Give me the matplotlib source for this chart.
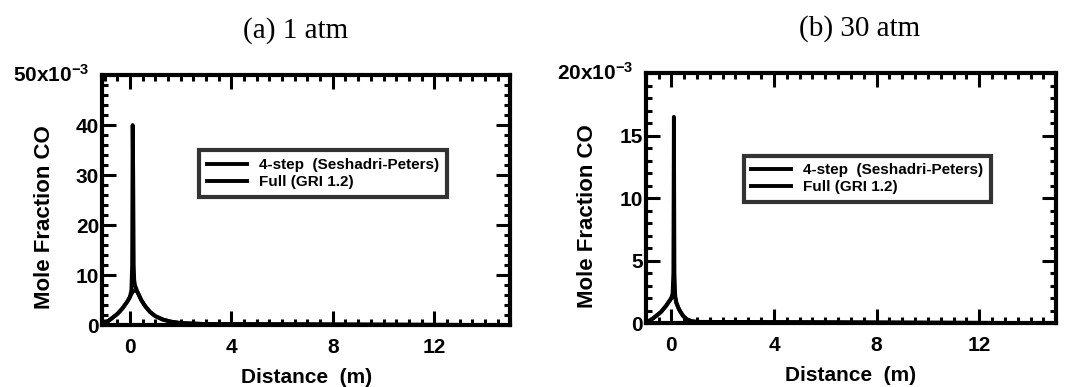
import numpy as np
import matplotlib.pyplot as plt
from matplotlib.ticker import MultipleLocator

plt.rcParams['font.family'] = ['Liberation Sans', 'DejaVu Sans']
plt.rcParams['font.weight'] = 'bold'
plt.rcParams['mathtext.fontset'] = 'custom'
plt.rcParams['mathtext.rm'] = 'Liberation Sans:bold'
plt.rcParams['mathtext.default'] = 'rm'

# (a) 1 atm - distance (m), CO mole fraction
x_4step_1 = [-1.1, -0.8, -0.5, -0.3, -0.1, 0.0, 0.06, 0.09, 0.11, 0.13, 0.15, 0.17, 0.2, 0.3, 0.45, 0.6, 0.8, 1.0, 1.3, 1.6, 2.0, 3.0, 15.0]
y_4step_1 = [0.0, 0.0010, 0.0022, 0.0033, 0.0047, 0.0056, 0.0070, 0.012, 0.040, 0.030, 0.012, 0.0090, 0.0080, 0.0066, 0.0050, 0.0038, 0.0026, 0.0018, 0.0011, 0.0007, 0.0004, 0.0002, 0.0]
x_full_1 = [-1.1, -0.8, -0.5, -0.3, -0.1, 0.0, 0.1, 0.2, 0.3, 0.45, 0.6, 0.8, 1.0, 1.3, 1.6, 2.0, 3.0, 15.0]
y_full_1 = [0.0, 0.0010, 0.0022, 0.0033, 0.0047, 0.0056, 0.0066, 0.0070, 0.0066, 0.0050, 0.0038, 0.0026, 0.0018, 0.0011, 0.0007, 0.0004, 0.0002, 0.0]

# (b) 30 atm
x_4step_30 = [-1.0, -0.7, -0.4, -0.2, 0.0, 0.05, 0.08, 0.1, 0.12, 0.15, 0.2, 0.3, 0.45, 0.6, 0.8, 1.0, 15.0]
y_4step_30 = [0.0, 0.0004, 0.0009, 0.0014, 0.0020, 0.0024, 0.0040, 0.0165, 0.0040, 0.0022, 0.0016, 0.0011, 0.0006, 0.0003, 0.00015, 0.0001, 0.0]
x_full_30 = [-1.0, -0.7, -0.4, -0.2, 0.0, 0.1, 0.2, 0.3, 0.45, 0.6, 0.8, 1.0, 15.0]
y_full_30 = [0.0, 0.0004, 0.0009, 0.0014, 0.0020, 0.0024, 0.0016, 0.0011, 0.0006, 0.0003, 0.00015, 0.0001, 0.0]

labels = ['4-step  (Seshadri-Peters)', 'Full (GRI 1.2)']
xticks = [0, 4, 8, 12]

fig = plt.figure(figsize=(10.69, 3.87), dpi=100)
ax1 = fig.add_axes([0.0954, 0.160, 0.382, 0.646])
ax2 = fig.add_axes([0.604, 0.165, 0.384, 0.646])

panels = [
    (ax1, x_4step_1, y_4step_1, x_full_1, y_full_1, (-1.1, 15), 0.05, 0.01, 0.002, '(a) 1 atm', 0.473, '50x10$^{-3}$', 0.73),
    (ax2, x_4step_30, y_4step_30, x_full_30, y_full_30, (-1.0, 15), 0.02, 0.005, 0.001, '(b) 30 atm', 0.522, '20x10$^{-3}$', 0.70),
]

for ax, xa, ya, xb, yb, xlim, ytop, ymaj, ymin, title, tx, toplab, legy in panels:
    ax.plot(xa, ya, color='black', lw=2.8, label=labels[0])
    ax.plot(xb, yb, color='black', lw=2.8, label=labels[1])
    ax.set_xlim(*xlim)
    ax.set_ylim(0, ytop)
    ax.set_xticks(xticks)
    ax.xaxis.set_minor_locator(MultipleLocator(0.5))
    yt = np.arange(0, ytop - ymaj / 2, ymaj)
    ax.set_yticks(yt)
    ax.set_yticklabels([f'{v * 1000:g}' for v in yt])
    ax.yaxis.set_minor_locator(MultipleLocator(ymin))
    ax.tick_params(which='both', direction='in', top=True, right=True, width=2.2,
                   labelsize=15)
    ax.tick_params(axis='x', pad=9)
    ax.tick_params(axis='y', pad=2)
    ax.tick_params(which='major', length=10)
    ax.tick_params(which='minor', length=4)
    for s in ax.spines.values():
        s.set_linewidth(3)
    ax.set_xlabel('Distance  (m)', fontsize=15, fontweight='bold', labelpad=8)
    ax.set_ylabel('Mole Fraction CO', fontsize=16, fontweight='bold')
    ax.yaxis.set_label_coords(-0.115, 0.43)
    ax.set_title(title, x=tx, fontsize=21, fontweight='normal', family='Liberation Serif', pad=27)
    ax.text(-0.03, 1.0, toplab, transform=ax.transAxes, ha='right', va='center',
            fontsize=15, fontweight='bold')
    leg = ax.legend(loc='upper left', bbox_to_anchor=(0.22, legy), fontsize=11,
                    frameon=True, fancybox=False, edgecolor='black',
                    handlelength=2.6, borderpad=0.5, labelspacing=0.2)
    leg.get_frame().set_linewidth(3)
    for t in leg.get_texts():
        t.set_fontweight('bold')

fig.savefig('out.png', dpi=100, facecolor='white')
